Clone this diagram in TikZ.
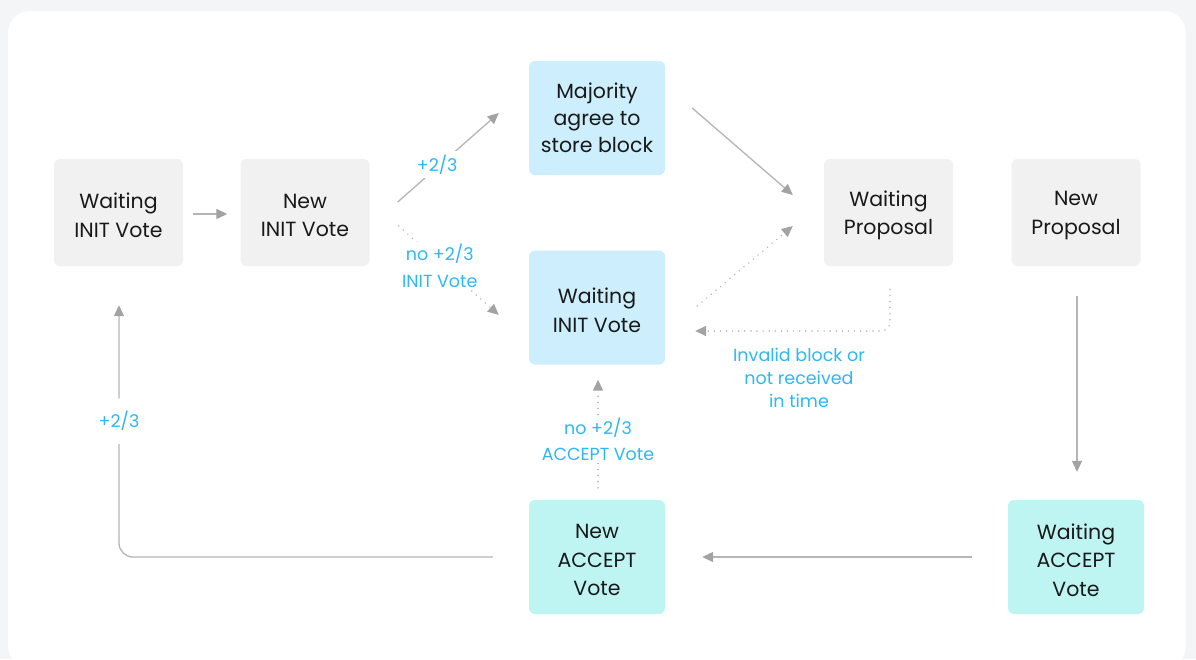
\documentclass[tikz,border=0pt]{standalone}
\usepackage{fontspec}
\setmainfont{Poppins}
\usetikzlibrary{arrows.meta,calc}
\definecolor{bgout}{HTML}{F4F5F7}
\definecolor{boxgray}{HTML}{F1F1F2}
\definecolor{boxblue}{HTML}{CDEEFD}
\definecolor{boxcyan}{HTML}{BEF5F3}
\definecolor{lblue}{HTML}{2DB8F5}
\definecolor{lgray}{HTML}{B5B5B5}
\definecolor{hgray}{HTML}{A3A3A3}
\tikzset{
  state/.style={rounded corners=6pt, minimum width=129pt, minimum height=107pt, inner sep=0pt},
  bigstate/.style={state, minimum width=136pt, minimum height=114pt},
  stxt/.style={align=center, inner sep=0pt, yshift=-3pt, font=\fontsize{20.5}{28.5}\selectfont, text=black!90},
  arr/.style={draw=lgray, line width=1.3pt, -{Triangle[length=11pt,width=10pt,fill=hgray,color=hgray]}},
  dotarr/.style={arr, line cap=round, dash pattern=on 0.1pt off 6pt, line width=1.6pt},
  lbl/.style={text=lblue, align=center, font=\fontsize{17.5}{26.5}\selectfont, inner sep=2pt},
  gap/.style={lbl, fill=white}
}
\begin{document}
\begin{tikzpicture}[x=1pt,y=-1pt]
\useasboundingbox (0,0) rectangle (1196,659);
\fill[bgout] (0,0) rectangle (1196,659);
\fill[white, rounded corners=22pt] (8,11) rectangle (1186,668);
% nodes
\node[state, fill=boxgray, label={[stxt]center:{Waiting\\INIT Vote}}] (wi1) at (118.5,212.5) {};
\node[state, fill=boxgray, label={[stxt]center:{New\\INIT Vote}}] (ni1) at (305,212.5) {};
\node[bigstate, fill=boxblue, label={[stxt, yshift=3pt, font=\fontsize{20.5}{27}\selectfont]center:{Majority\\agree to\\store block}}] (maj) at (597,118) {};
\node[bigstate, fill=boxblue, label={[stxt]center:{Waiting\\INIT Vote}}] (wi2) at (597,307.5) {};
\node[state, fill=boxgray, label={[stxt]center:{Waiting\\Proposal}}] (wp) at (888.5,212.5) {};
\node[state, fill=boxgray, label={[stxt]center:{New\\Proposal}}] (np) at (1076,212.5) {};
\node[bigstate, fill=boxcyan, label={[stxt]center:{New\\ACCEPT\\Vote}}] (na) at (597,557) {};
\node[bigstate, fill=boxcyan, label={[stxt]center:{Waiting\\ACCEPT\\Vote}}] (wa) at (1076,557) {};
% connectors
\draw[arr] ($(wi1.east)+(10,1.5)$) -- ($(ni1.west)+(-13,1.5)$);
\draw[arr] ($(ni1.east)+(28,-10.5)$) -- node[gap, pos=0.42, xshift=-3pt, inner sep=4pt] {+2/3} ($(maj.west)+(-30,-5)$);
\draw[dotarr] ($(ni1.east)+(29,13.5)$) -- node[gap, pos=0.45, xshift=-4pt] {no +2/3\\INIT Vote} ($(wi2.west)+(-30,7.5)$);
\draw[arr] ($(maj.east)+(27,-10)$) -- ($(wp.west)+(-31,-17.5)$);
\draw[dotarr] ($(wi2.east)+(32,-1.5)$) -- ($(wp.west)+(-31,13.5)$);
\draw[dotarr, rounded corners=9pt] ($(wp.south)+(1.5,23)$) |- ($(wi2.east)+(30,23.5)$);
\node[lbl, font=\fontsize{17.5}{23}\selectfont] (inv) at (799,378) {Invalid block or\\not received\\in time};
\draw[arr] ($(np.south)+(1,30)$) -- ($(wa.north)+(1,-28)$);
\draw[arr] ($(wa.west)+(-36,0)$) -- ($(na.east)+(37,0)$);
\draw[arr, rounded corners=14pt] ($(na.west)+(-36,0)$) -| node[gap, pos=0.77, inner ysep=13pt] {+2/3} ($(wi1.south)+(0.5,39)$);
\draw[dotarr] ($(na.north)+(1,-12)$) -- node[gap, pos=0.45] {no +2/3\\ACCEPT Vote} ($(wi2.south)+(1,15)$);
\end{tikzpicture}
\end{document}
